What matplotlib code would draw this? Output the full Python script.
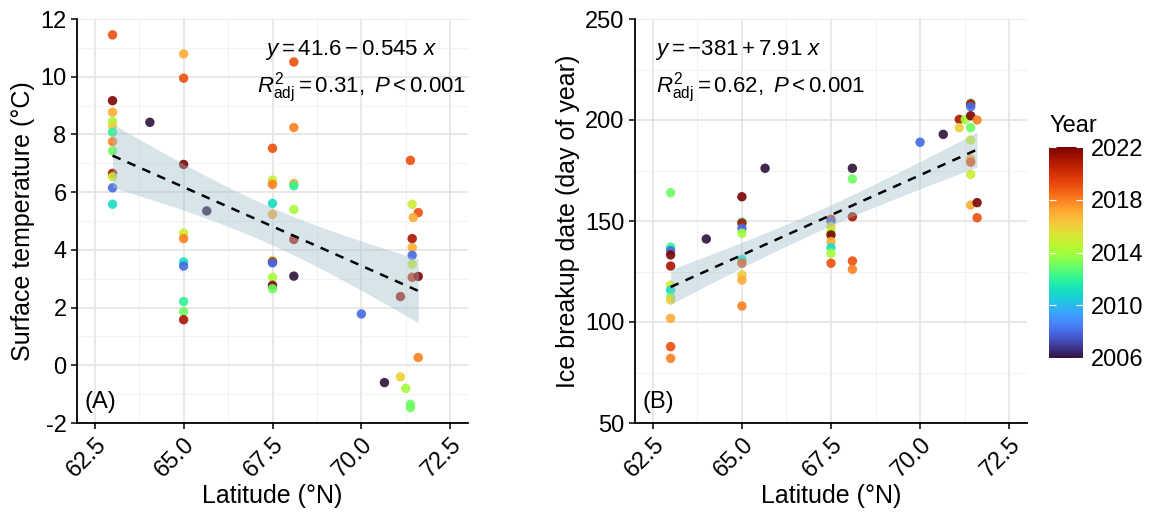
import numpy as np
import matplotlib
matplotlib.use("Agg")
import matplotlib.pyplot as plt
from matplotlib.ticker import MultipleLocator

plt.rcParams["font.family"] = ["Liberation Sans", "DejaVu Sans"]
plt.rcParams["mathtext.fontset"] = "custom"
plt.rcParams["mathtext.rm"] = "Liberation Sans"
plt.rcParams["mathtext.it"] = "Liberation Sans:italic"
plt.rcParams["axes.unicode_minus"] = False

# panel A: surface temperature vs latitude
lat_a = [63.0] * 12 + [64.05] + [65.0] * 10 + [65.65] + [67.5] * 11 + [68.1] * 7 \
    + [70.0, 70.65, 71.1, 71.1, 71.25, 71.38, 71.38, 71.38] \
    + [71.43] * 6 + [71.6] * 3 + [71.46]
temp_a = [11.45, 9.17, 8.77, 8.45, 8.30, 8.08, 7.75, 7.43, 6.65, 6.53, 6.15, 5.58,
          8.42,
          10.79, 9.95, 6.96, 4.58, 4.39, 3.58, 3.44, 2.21, 1.86, 1.58,
          5.35,
          7.52, 6.42, 6.27, 5.61, 5.23, 3.63, 3.58, 3.55, 3.05, 2.77, 2.65,
          10.51, 8.24, 6.30, 6.22, 5.40, 4.36, 3.09,
          1.78, -0.60, 2.38, -0.40, -0.80, -1.35, -1.47, 7.10,
          5.58, 4.39, 4.08, 3.81, 3.50, 3.05,
          5.29, 3.08, 0.27,
          5.12]
year_a = [2019, 2022, 2017, 2014, 2016, 2012, 2018, 2013, 2021, 2015, 2008, 2011,
          2006,
          2017, 2019, 2022, 2015, 2018, 2011, 2008, 2012, 2013, 2021,
          2006,
          2019, 2015, 2018, 2011, 2017, 2016, 2021, 2008, 2014, 2022, 2013,
          2019, 2018, 2017, 2012, 2014, 2021, 2006,
          2008, 2006, 2021, 2016, 2014, 2013, 2013, 2019,
          2015, 2021, 2017, 2008, 2015, 2020,
          2019, 2022, 2018,
          2017]

# panel B: ice breakup date vs latitude
lat_b = [63.0] * 12 + [64.0, 65.65] + [65.0] * 10 + [67.5] * 9 + [68.1] * 5 \
    + [70.0, 70.65, 71.1, 71.1, 71.27] + [71.42] * 10 + [71.6] * 3
doy_b = [164.0, 137.0, 135.3, 133.2, 127.7, 118.3, 115.8, 112.2, 110.9, 101.8, 87.8, 82.0,
         141.1, 176.1,
         162.0, 149.4, 149.0, 146.4, 143.9, 131.0, 129.1, 123.3, 120.8, 107.9,
         150.8, 149.7, 147.2, 144.7, 143.1, 139.8, 136.8, 134.0, 129.1,
         176.1, 170.8, 152.1, 130.2, 126.1,
         189.0, 192.9, 200.3, 196.2, 200.3,
         208.3, 208.0, 206.6, 202.1, 196.2, 190.1, 180.7, 179.1, 173.1, 157.9,
         200.0, 159.1, 151.6]
year_b = [2013, 2012, 2008, 2022, 2021, 2015, 2011, 2013, 2016, 2017, 2019, 2018,
          2006, 2006,
          2022, 2012, 2021, 2008, 2014, 2011, 2019, 2016, 2017, 2018,
          2020, 2008, 2016, 2014, 2022, 2017, 2011, 2014, 2019,
          2006, 2013, 2021, 2019, 2018,
          2008, 2006, 2021, 2016, 2014,
          2013, 2021, 2008, 2022, 2013, 2015, 2017, 2019, 2015, 2017,
          2018, 2022, 2019]

# fitted models as printed on the chart
coef_a = (41.6, -0.545)
coef_b = (-381, 7.91)
eq_a = [r"$y = 41.6 - 0.545\ x$", r"$R^2_{\mathrm{adj}} = 0.31,\ P < 0.001$"]
eq_b = [r"$y = -381 + 7.91\ x$", r"$R^2_{\mathrm{adj}} = 0.62,\ P < 0.001$"]

year_ticks = [2006, 2010, 2014, 2018, 2022]


def fit_band(x, y, coef, t=2.0):
    x = np.asarray(x)
    y = np.asarray(y)
    pred = coef[0] + coef[1] * x
    s = np.sqrt(np.sum((y - pred) ** 2) / (len(x) - 2))
    xs = np.linspace(x.min(), x.max(), 100)
    sxx = np.sum((x - x.mean()) ** 2)
    half = t * s * np.sqrt(1 / len(x) + (xs - x.mean()) ** 2 / sxx)
    ys = coef[0] + coef[1] * xs
    return xs, ys, half


def panel(ax, x, y, yr, coef, ylim, ystep, ylabel):
    sc = ax.scatter(x, y, c=yr, cmap="turbo", vmin=2006, vmax=2022, s=46,
                    alpha=0.9, linewidths=0, zorder=3)
    xs, ys, half = fit_band(x, y, coef)
    ax.fill_between(xs, ys - half, ys + half, color="#9dc0cf", alpha=0.4,
                    linewidth=0, zorder=4)
    ax.plot(xs, ys, color="black", ls=(0, (3.5, 3)), lw=1.8, zorder=5)
    ax.set_xlim(62.0, 73.0)
    ax.set_ylim(*ylim)
    ax.xaxis.set_minor_locator(MultipleLocator(1.25))
    ax.yaxis.set_major_locator(MultipleLocator(ystep))
    ax.yaxis.set_minor_locator(MultipleLocator(ystep / 2))
    ax.set_xticks([62.5, 65.0, 67.5, 70.0, 72.5])
    ax.set_xticklabels(["62.5", "65.0", "67.5", "70.0", "72.5"], rotation=45,
                       ha="right", rotation_mode="anchor")
    ax.grid(which="major", color="#e4e4e4", lw=1.2)
    ax.grid(which="minor", color="#f1f1f1", lw=0.7)
    ax.set_axisbelow(True)
    for side in ["top", "right"]:
        ax.spines[side].set_visible(False)
    for side in ["left", "bottom"]:
        ax.spines[side].set_linewidth(1.3)
    ax.tick_params(which="major", length=4, width=1.1, labelsize=17,
                   colors="black")
    ax.tick_params(which="minor", length=0)
    ax.set_xlabel("Latitude (°N)", fontsize=18, labelpad=2)
    ax.set_ylabel(ylabel, fontsize=18, labelpad=4)
    return sc


fig = plt.figure(figsize=(11.53, 5.12), dpi=100)
ax1 = fig.add_axes([77 / 1153, 89 / 512, 391 / 1153, 404 / 512])
ax2 = fig.add_axes([635 / 1153, 89 / 512, 392 / 1153, 404 / 512])

sc = panel(ax1, lat_a, temp_a, year_a, coef_a, (-2, 12), 2,
           "Surface temperature (°C)")
panel(ax2, lat_b, doy_b, year_b, coef_b, (50, 250), 50,
      "Ice breakup date (day of year)")

fs_eq = 16
ax1.text(0.481, 0.911, eq_a[0], transform=ax1.transAxes, fontsize=fs_eq, va="baseline")
ax1.text(0.460, 0.817, eq_a[1], transform=ax1.transAxes, fontsize=fs_eq, va="baseline")
ax2.text(0.051, 0.911, eq_b[0], transform=ax2.transAxes, fontsize=fs_eq, va="baseline")
ax2.text(0.054, 0.817, eq_b[1], transform=ax2.transAxes, fontsize=fs_eq, va="baseline")
ax1.text(0.02, 0.037, "(A)", transform=ax1.transAxes, fontsize=17, va="baseline")
ax2.text(0.02, 0.037, "(B)", transform=ax2.transAxes, fontsize=17, va="baseline")

cax = fig.add_axes([1049 / 1153, 154 / 512, 34 / 1153, 211 / 512])
cb = fig.colorbar(sc, cax=cax, ticks=year_ticks)
cb.solids.set_alpha(1)
cb.outline.set_visible(False)
cax.yaxis.set_ticks_position("both")
cax.tick_params(color="white", direction="in", length=5, width=0.8,
                labelsize=17, labelleft=False, labelright=True, pad=6)
fig.text(1050 / 1153, 1 - 132 / 512, "Year", fontsize=17, va="baseline")

fig.savefig("out.png", dpi=100)
